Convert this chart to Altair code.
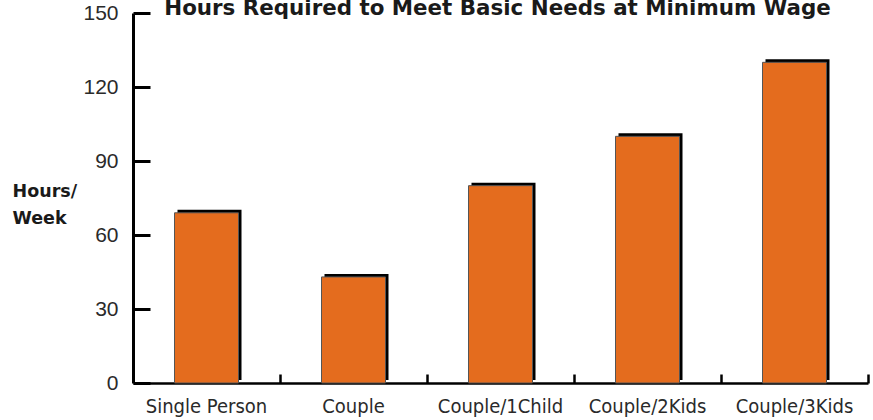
import altair as alt
import pandas as pd

# Household types and weekly hours at minimum wage
categories = ["Single Person", "Couple", "Couple/1Child", "Couple/2Kids", "Couple/3Kids"]
hours = [69, 43, 80, 100, 130]
y_ticks = [0, 30, 60, 90, 120, 150]
chart_title = "Hours Required to Meet Basic Needs at Minimum Wage"

df = pd.DataFrame({"household": categories, "hours": hours})

ORANGE = "#E46C1E"
PLOT_W = 735
PLOT_H = 370

x_scale = alt.Scale(paddingInner=0, paddingOuter=0)
y_scale = alt.Scale(domain=[0, 150], nice=False)

# Black drop shadow behind each bar; this layer carries the labelled axes
shadow = alt.Chart(df).mark_bar(color="black", size=64, xOffset=3, yOffset=-3).encode(
    x=alt.X(
        "household:N",
        sort=categories,
        scale=x_scale,
        axis=alt.Axis(
            orient="bottom",
            title=None,
            labelAngle=0,
            ticks=False,
            tickSize=0,
            labelPadding=13,
            labelFont="DejaVu Sans Condensed",
            labelFontSize=20,
            labelColor="#2a2a2a",
            domainColor="black",
            domainWidth=2.5,
        ),
    ),
    y=alt.Y(
        "hours:Q",
        scale=y_scale,
        axis=alt.Axis(
            orient="left",
            values=y_ticks,
            ticks=False,
            tickSize=0,
            grid=False,
            labelPadding=15,
            labelFont="Liberation Sans",
            labelFontSize=21,
            labelColor="#2a2a2a",
            domainColor="black",
            domainWidth=3,
            title=["Hours/", "Week"],
            titleAngle=0,
            titleAlign="left",
            titleBaseline="top",
            titleX=-121,
            titleY=169,
            titleLineHeight=27,
            titleFont="DejaVu Sans",
            titleFontWeight="bold",
            titleFontSize=17.5,
            titleColor="#1a1a1a",
        ),
    ),
)

# Orange bars; this layer carries the inward-pointing tick axes
bars = alt.Chart(df).mark_bar(color=ORANGE, size=64, stroke="#555555", strokeWidth=1).encode(
    x=alt.X(
        "household:N",
        sort=categories,
        scale=x_scale,
        axis=alt.Axis(
            orient="top",
            offset=-PLOT_H,
            title=None,
            labels=False,
            bandPosition=1,
            ticks=True,
            tickSize=9,
            tickWidth=2.5,
            tickColor="black",
            domain=False,
            grid=False,
        ),
    ),
    y=alt.Y(
        "hours:Q",
        scale=y_scale,
        axis=alt.Axis(
            orient="right",
            offset=-PLOT_W,
            values=y_ticks,
            title=None,
            labels=False,
            grid=False,
            ticks=True,
            tickSize=17,
            tickWidth=3,
            tickColor="black",
            domain=False,
        ),
    ),
)

# Heading text, partly running off the top edge
heading = alt.Chart(pd.DataFrame({"t": [chart_title]})).mark_text(
    font="DejaVu Sans",
    fontWeight="bold",
    fontSize=21.4,
    color="#1a1a1a",
    align="center",
    baseline="alphabetic",
).encode(
    text="t:N",
    x=alt.value(PLOT_W / 2 - 3),
    y=alt.value(1.5),
)

chart = (
    alt.layer(shadow, bars, heading)
    .resolve_axis(x="independent", y="independent")
    .properties(
        width=PLOT_W,
        height=PLOT_H,
        autosize=alt.AutoSizeParams(type="none"),
        padding={"left": 133, "top": 13, "right": 5, "bottom": 37},
        view=alt.ViewBackground(stroke=None, strokeWidth=0),
    )
    .configure_view(stroke=None, strokeWidth=0)
    .configure(background="white")
)

chart.save("out.html", embed_options={"renderer": "svg", "actions": False})
